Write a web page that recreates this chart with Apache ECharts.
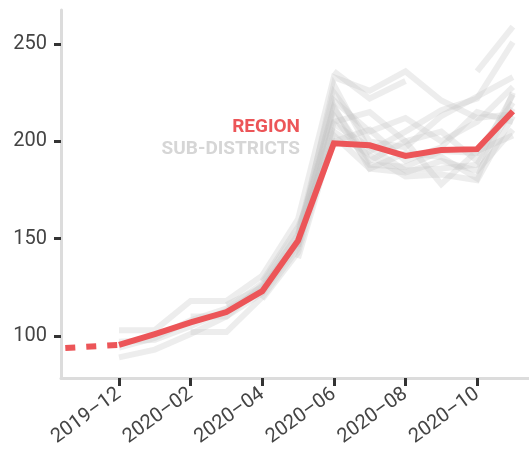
<!DOCTYPE html>
<html><head><meta charset="utf-8">
<script src="https://cdn.jsdelivr.net/npm/echarts@6/dist/echarts.min.js"></script>
<style>html,body{margin:0;padding:0;background:#fff}#c{width:529px;height:451px}</style>
</head><body><div id="c"></div>
<script>
// month index 0 = 2019-12 ... 11 = 2020-11
var months = ['2019–12','2020–01','2020–02','2020–03','2020–04','2020–05','2020–06','2020–07','2020–08','2020–09','2020–10','2020–11'];
var tickMonths = [0, 2, 4, 6, 8, 10];
var yTicks = [100, 150, 200, 250];
var regionPre = [[-1.5, 93.8], [0, 95.4]];
var region = [95.4, 101, 107, 112.3, 123, 149, 199, 198, 192.5, 195.6, 196, 215.5];
var sd1  = [null, null, null, null, null, null, 236, 222, 231, null, null, null];
var sd2  = [null, null, null, null, null, null, null, null, null, null, 236, 259];
var sd3  = [103, 103, 118, 118, 131, 160, 233, 226, 236, 221, 212, 214];
var sd4  = [89, 93, 101, 110, 122, 147, 229, 195, 205, 216, 222, 251];
var sd5  = [null, null, 110, 110, 126, 152, 225, 200, 197, 213, 223, 233];
var sd6  = [null, null, 102, 102, 120, 145, 221, 205, 212, 200, 210, 228];
var sd7  = [97, 98, 105, 113, 124, 150, 217, 190, 200, 205, 190, 224];
var sd8  = [94, 99, 108, 114, 127, 154, 213, 188, 187, 195, 194, 220];
var sd9  = [null, null, null, 116, 125, 148, 209, 197, 185, 186, 188, 217];
var sd10 = [null, null, null, null, 119, 143, 205, 193, 182, 183, 180, 213];
var sd11 = [null, null, null, null, 128, 156, 200, 206, 190, 197, 215, 210];
var sd12 = [null, null, null, null, null, 140, 203, 186, 184, 190, 185, 206];
var sd13 = [null, null, null, null, null, 146, 210, 215, 200, 178, 195, 203];
var sd14 = [null, null, null, null, null, 152, 218, 186, 194, 192, 181, 225];
var subDistricts = [sd1, sd2, sd3, sd4, sd5, sd6, sd7, sd8, sd9, sd10, sd11, sd12, sd13, sd14];

var FONT = "Roboto, sans-serif";
var RED = '#ec5558';
function toPairs(arr){ return arr.map(function(v,i){ return [i, v]; }); }

var series = subDistricts.map(function(arr){
  return {type:'line', data: toPairs(arr), symbol:'none', connectNulls:false, silent:true,
    lineStyle:{color:'#c4c4c4', width:6, opacity:0.3, cap:'butt', join:'miter'}, z:1};
});
series.push({type:'line', data: regionPre, symbol:'none', silent:true,
  lineStyle:{color:RED, width:6, type:[10,11], cap:'butt'}, z:3});
series.push({type:'line', data: toPairs(region), symbol:'none', silent:true,
  lineStyle:{color:RED, width:6, cap:'butt', join:'miter'}, z:3});

var chart = echarts.init(document.getElementById('c'), null, {renderer:'canvas'});
chart.setOption({
  animation:false,
  grid:{left:61, top:10, right:0, bottom:73, containLabel:false},
  xAxis:{type:'value', min:-1.62, max:11.45,
    axisLine:{show:true, onZero:false, lineStyle:{color:'#dcdcdc', width:3}},
    axisTick:{show:true, customValues: tickMonths, length:8, lineStyle:{color:'#333', width:3}},
    axisLabel:{customValues: tickMonths, rotate:36, margin:14, fontSize:20, color:'#444', fontFamily:FONT,
      formatter:function(v){ return months[Math.round(v)]; }},
    splitLine:{show:false}},
  yAxis:{type:'value', min:78.4, max:267.5,
    axisLine:{show:true, onZero:false, lineStyle:{color:'#dcdcdc', width:3}},
    axisTick:{show:true, customValues: yTicks, length:7, lineStyle:{color:'#333', width:3}},
    axisLabel:{customValues: yTicks, margin:14, fontSize:20, color:'#444', fontFamily:FONT},
    splitLine:{show:false}},
  graphic:[
    {type:'text', right:529-300, top:118, style:{text:'REGION', fill:RED, font:"bold 19px Roboto, sans-serif", textAlign:'right'}},
    {type:'text', right:529-300, top:140, style:{text:'SUB-DISTRICTS', fill:'#d6d6d6', font:"bold 19px Roboto, sans-serif", textAlign:'right'}}
  ],
  series: series
});
</script></body></html>
